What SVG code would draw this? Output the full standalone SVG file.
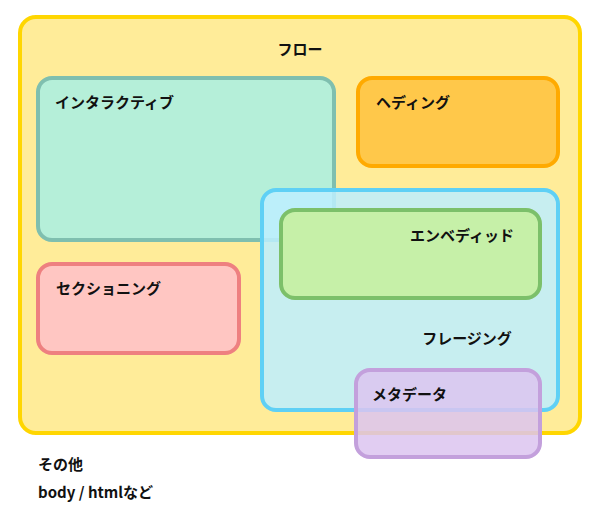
<svg xmlns="http://www.w3.org/2000/svg" width="600" height="521" viewBox="0 0 600 521">
<style>
text{font-family:"Noto Sans CJK JP","Noto Sans",sans-serif;font-size:15px;font-weight:bold;fill:#111}
rect{stroke-width:4}
</style>
<rect width="600" height="521" fill="#fff" stroke="none"/>
<g id="flow"><rect x="20" y="17" width="560" height="416" rx="16" fill="#ffec99" stroke="#ffd600"/><text x="300" y="55" text-anchor="middle">フロー</text></g>
<g id="heading"><rect x="358" y="78" width="200" height="88" rx="14" fill="#ffc84a" stroke="#ffaa00"/><text x="376" y="108">ヘディング</text></g>
<g id="sectioning"><rect x="38" y="264" width="201" height="89" rx="14" fill="#ffc6c2" stroke="#ee8080"/><text x="56" y="294">セクショニング</text></g>
<g id="interactive"><rect x="38" y="78" width="296" height="162" rx="14" fill="#a8f0e4" fill-opacity="0.85" stroke="#7fbfaf"/><text x="55" y="108">インタラクティブ</text></g>
<g id="phrasing"><rect x="262" y="190" width="296" height="220" rx="14" fill="#bdeeff" fill-opacity="0.85" stroke="#5fd0f5"/><text x="467" y="344" text-anchor="middle">フレージング</text></g>
<g id="embedded"><rect x="281" y="210" width="259" height="88" rx="14" fill="#c6f0a8" stroke="#7cc06a"/><text x="462" y="241" text-anchor="middle">エンベディッド</text></g>
<g id="metadata"><rect x="356" y="370" width="184" height="87" rx="14" fill="#dcc4f0" fill-opacity="0.85" stroke="#c3a0dc"/><text x="372" y="400">メタデータ</text></g>
<g id="other"><text x="38" y="470">その他</text><text x="38" y="498">body / htmlなど</text></g>
<g id="connectors"/>
</svg>
